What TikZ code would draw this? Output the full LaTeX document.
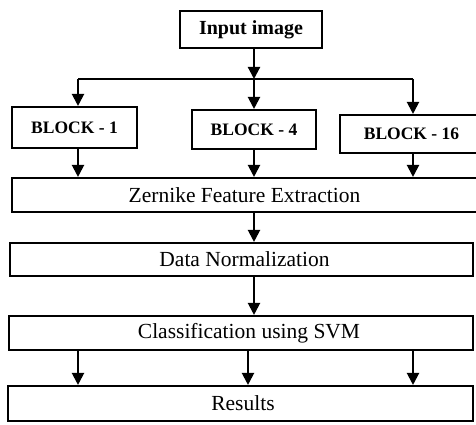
\documentclass[tikz,border=0pt]{standalone}
\usepackage{fontspec}
\setmainfont{Liberation Serif}
\usetikzlibrary{arrows.meta}
\begin{document}
\begin{tikzpicture}[x=1pt,y=-1pt,
  box/.style={draw,line width=2.1pt,inner sep=0pt,font=\fontsize{21.5}{25}\selectfont},
  blockbox/.style={box,font=\bfseries\fontsize{17.5}{20}\selectfont},
  link/.style={line width=2.1pt},
  arr/.style={link,-{Triangle[width=12pt,length=12pt]}}]
\useasboundingbox (0,0) rectangle (476,425);
\clip (0,0) rectangle (476,425);
% input and the three block sizes
\node[box,font=\bfseries\fontsize{20}{23}\selectfont,minimum width=142pt,minimum height=37pt] (input) at (251,29.5) {Input image};
\node[blockbox,minimum width=125pt,minimum height=41pt] (b1) at (74.5,127.5) {BLOCK - 1};
\node[blockbox,minimum width=124pt,minimum height=39pt] (b4) at (254,129.5) {BLOCK - 4};
\node[blockbox,minimum width=170pt,minimum height=38pt] (b16) at (425,134) {\hspace*{-27pt}BLOCK - 16};
% processing stages
\node[box,minimum width=498pt,minimum height=34pt] (zern) at (261,195) {\hspace*{-33pt}Zernike Feature Extraction};
\node[box,minimum width=463pt,minimum height=33pt] (norm) at (241.5,259.5) {\hspace*{6pt}Data Normalization};
\node[box,minimum width=464pt,minimum height=34pt] (cls) at (241,333) {\hspace*{16pt}Classification using SVM};
\node[box,minimum width=465pt,minimum height=35pt] (res) at (240.5,403.5) {\hspace*{5pt}Results};
% fan-out from the input
\coordinate (split) at (254,79);
\draw[arr] (input.south -| split) -- (split);
\draw[link] (split -| 78,0) -- (split -| 413,0);
\draw[arr] (split -| 78,0) -- (b1.north -| 78,0);
\draw[arr] (split) -- (b4.north);
\draw[arr] (split -| 413,0) -- (b16.north -| 413,0);
% blocks into feature extraction
\draw[arr] (b1.south -| 78,0) -- (zern.north -| 78,0);
\draw[arr] (b4.south) -- (zern.north -| b4.south);
\draw[arr] (b16.south -| 413,0) -- (zern.north -| 413,0);
% main chain
\draw[arr] (zern.south -| 254,0) -- (norm.north -| 254,0);
\draw[arr] (norm.south -| 254,0) -- (cls.north -| 254,0);
% classification into results
\draw[arr] (cls.south -| 78,0) -- (res.north -| 78,0);
\draw[arr] (cls.south -| 248,0) -- (res.north -| 248,0);
\draw[arr] (cls.south -| 413,0) -- (res.north -| 413,0);
\end{tikzpicture}
\end{document}
